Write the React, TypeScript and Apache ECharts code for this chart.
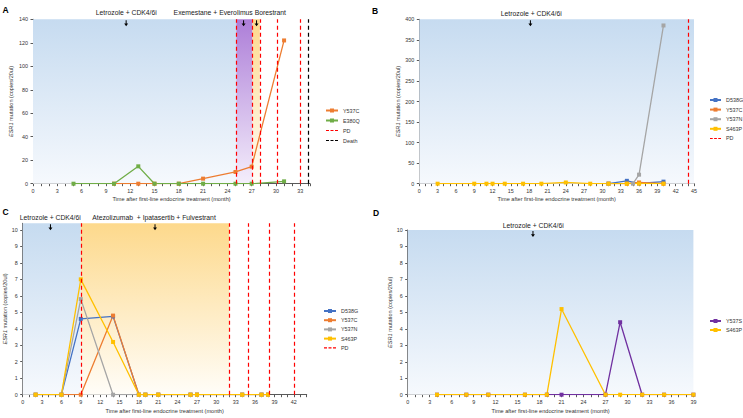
import React, { useEffect, useRef } from "react";
import * as echarts from "echarts";

const FONT = "'Liberation Sans', Arial, Helvetica, sans-serif";

// ---------- Panel A ----------
const monthsA_Y537C = [10, 13, 15, 18, 21, 25, 27, 31];
const valuesA_Y537C = [0, 0, 0, 0, 4.3, 10, 14.5, 122];
const monthsA_E380Q = [5, 10, 13, 15, 18, 21, 25, 27, 31];
const valuesA_E380Q = [0, 0, 14.8, 0, 0, 0, 0, 0, 2];
const pdA = [25.1, 27.1, 28, 30.1, 33];
const deathA = [34];
const phasesA = [[0, 25.1], [25.1, 27.1], [27.1, 28]];
const arrowsA = [11.5, 26, 27.6];

// ---------- Panel B ----------
const monthsB_D538G = [31, 34, 36, 40];
const valuesB_D538G = [0, 7, 0.5, 5];
const monthsB_Y537C = [31, 34, 36, 40];
const valuesB_Y537C = [0, 0, 3, 0];
const monthsB_Y537N = [31, 35, 36, 40];
const valuesB_Y537N = [0, 0, 22, 385];
const monthsB_S463P = [3, 9, 11, 12, 14, 17, 20, 24, 28, 31, 34, 36, 40];
const valuesB_S463P = [0, 0, 0, 0, 0, 0, 0, 3, 0, 0, 0, 0, 0];
const pdB = [44];
const phasesB = [[0, 45]];
const arrowsB = [18.2];

// ---------- Panel C ----------
const monthsC = [2, 6, 9, 14, 18, 19, 21, 26, 27, 34, 37, 38];
const valuesC_D538G = [0, 0, 4.6, 4.75, 0, 0, 0, 0, 0, 0, 0, 0];
const valuesC_Y537C = [0, 0, 0, 4.8, 0, 0, 0, 0, 0, 0, 0, 0];
const valuesC_Y537N = [0, 0, 5.8, 0, 0, 0, 0, 0, 0, 0, 0, 0];
const valuesC_S463P = [0, 0, 7.0, 3.2, 0, 0, 0, 0, 0, 0, 0, 0];
const pdC = [9, 32, 35, 38.2, 42];
const phasesC = [[0, 9], [9, 32]];
const arrowsC = [4.3, 20.5];

// ---------- Panel D ----------
const monthsD = [4, 8, 11, 16, 19, 21, 27, 29, 32, 35, 39];
const valuesD_Y537S = [0, 0, 0, 0, 0, 0, 0, 4.4, 0, 0, 0];
const valuesD_S463P = [0, 0, 0, 0, 0, 5.2, 0, 0, 0, 0, 0];
const phasesD = [[0, 39]];
const arrowsD = [17.1];

const COLORS: Record<string, string> = {
  Y537C: "#ED7D31",
  E380Q: "#70AD47",
  D538G: "#4472C4",
  Y537N: "#A5A5A5",
  S463P: "#FFC000",
  Y537S: "#7030A0",
};

const grad = (top: string, bottom: string) =>
  new echarts.graphic.LinearGradient(0, 0, 0, 1, [
    { offset: 0, color: top },
    { offset: 1, color: bottom },
  ]);

const blueFill = () => grad("#c6dbf0", "#f6f9fd");
const purpleFill = () => grad("#ad7ed8", "#f4eefb");
const amberFill = () => grad("#fdd98c", "#fffdf8");

const AXIS_COLOR = "#595959";
const TEXT_COLOR = "#333333";

const ARROW = "path://M3,0 L5,0 L5,6 L8,6 L4,11 L0,6 L3,6 Z";
// legend glyph for dashed reference lines: three short dashes in a 12x5 box
const DASH_ICON =
  "path://M0,0h0.01v0.01h-0.01z M0,2h3v1.1h-3z M4.5,2h3v1.1h-3z M9,2h3v1.1h-3z M11.99,4.99h0.01v0.01h-0.01z";

function mutation(name: string, months: number[], values: number[], g: number) {
  const c = COLORS[name];
  return {
    type: "line",
    name,
    xAxisIndex: g,
    yAxisIndex: g,
    data: months.map((m, i) => [m, values[i]]),
    symbol: "rect",
    symbolSize: 4,
    lineStyle: { width: 1.3, color: c },
    itemStyle: { color: c },
    z: 3,
  };
}

function dashed(name: string, color: string, at: number[], g: number) {
  return {
    type: "line",
    name,
    xAxisIndex: g,
    yAxisIndex: g,
    data: [],
    symbol: "none",
    lineStyle: { width: 1.2, color, type: [4, 3] },
    itemStyle: { color },
    z: 4,
    markLine: {
      silent: true,
      symbol: ["none", "none"],
      label: { show: false },
      lineStyle: { width: 1.2, color, type: [4, 3] },
      data: at.map((x) => ({ xAxis: x })),
    },
  };
}

function backdrop(phases: number[][], fills: (() => any)[], arrows: number[], yTop: number, g: number) {
  return {
    type: "line",
    name: "__phase" + g,
    xAxisIndex: g,
    yAxisIndex: g,
    data: [],
    z: 1,
    markArea: {
      silent: true,
      data: phases.map((p, i) => [
        { xAxis: p[0], itemStyle: { color: fills[i](), opacity: 1 } },
        { xAxis: p[1] },
      ]),
    },
    markPoint: {
      silent: true,
      symbol: ARROW,
      symbolSize: [4, 6],
      symbolOffset: [0, 4],
      itemStyle: { color: "#000" },
      label: { show: false },
      data: arrows.map((x) => ({ coord: [x, yTop] })),
    },
  };
}

const yTitle = "{i|ESR1} mutation (copies/20ul)";

function xAxis(g: number, max: number, gap: number) {
  return {
    type: "value",
    gridIndex: g,
    min: 0,
    max,
    interval: 3,
    name: "Time after first-line endocrine treatment (month)",
    nameLocation: "middle",
    nameGap: gap,
    nameTextStyle: { fontSize: 5.6, color: TEXT_COLOR, fontFamily: FONT },
    axisLine: { show: true, lineStyle: { color: AXIS_COLOR, width: 1 } },
    axisTick: { show: true, length: 2.5, lineStyle: { color: AXIS_COLOR } },
    minorTick: { show: true, splitNumber: 3, length: 2.5, lineStyle: { color: AXIS_COLOR } },
    splitLine: { show: false },
    axisLabel: {
      fontSize: 5.4,
      color: TEXT_COLOR,
      fontFamily: FONT,
      margin: 5,
      showMaxLabel: max % 3 === 0,
    },
  };
}

function yAxis(g: number, max: number, interval: number, gap: number, hideMax = false) {
  return {
    type: "value",
    gridIndex: g,
    min: 0,
    max,
    interval,
    name: yTitle,
    nameLocation: "middle",
    nameGap: gap,
    nameRotate: 90,
    nameTextStyle: {
      fontSize: 5.6,
      color: TEXT_COLOR,
      fontFamily: FONT,
      rich: { i: { fontStyle: "italic", fontSize: 5.6, color: TEXT_COLOR, fontFamily: FONT } },
    },
    axisLine: { show: true, lineStyle: { color: AXIS_COLOR, width: 1 } },
    axisTick: { show: true, length: 2.5, lineStyle: { color: AXIS_COLOR } },
    splitLine: { show: false },
    axisLabel: {
      fontSize: 5.4,
      color: TEXT_COLOR,
      fontFamily: FONT,
      margin: 5,
      showMaxLabel: !hideMax,
    },
  };
}

function legendItems(names: string[]) {
  return names.map((n) =>
    n === "PD" || n === "Death" ? { name: n, icon: DASH_ICON } : { name: n }
  );
}

function legend(names: string[], left: number, top: number, gap: number, w: number) {
  return {
    data: legendItems(names),
    orient: "vertical",
    left,
    top,
    itemWidth: w,
    itemHeight: 5,
    itemGap: gap,
    selectedMode: false,
    textStyle: { fontSize: 5.4, color: TEXT_COLOR, fontFamily: FONT },
  };
}

function label(text: string, x: number, y: number, size = 6.8, bold = false) {
  return {
    type: "text",
    x,
    y,
    silent: true,
    style: {
      text,
      fill: bold ? "#000" : "#1a1a1a",
      fontSize: size,
      fontWeight: bold ? "bold" : "normal",
      fontFamily: FONT,
      align: bold ? "left" : "center",
      verticalAlign: "middle",
    },
  };
}

export default function App() {
  const ref = useRef<HTMLDivElement>(null);

  useEffect(() => {
    if (!ref.current) return;
    const chart = echarts.init(ref.current, undefined, { renderer: "svg" });

    const option: any = {
      animation: false,
      backgroundColor: "#ffffff",
      grid: [
        { left: 33, top: 19.3, width: 277, height: 164.4, outerBoundsMode: "none" },
        { left: 419.3, top: 19.3, width: 274.7, height: 164.4, outerBoundsMode: "none" },
        { left: 22.7, top: 223.3, width: 284, height: 171.4, outerBoundsMode: "none" },
        { left: 407.7, top: 230, width: 285.7, height: 164.7, outerBoundsMode: "none" },
      ],
      xAxis: [xAxis(0, 34.2, 12), xAxis(1, 45, 12), xAxis(2, 44, 13), xAxis(3, 39, 13)],
      yAxis: [
        yAxis(0, 140, 20, 19),
        yAxis(1, 400, 50, 16),
        yAxis(2, 10.4, 1, 9, true),
        yAxis(3, 10, 1, 9),
      ],
      legend: [
        legend(["Y537C", "E380Q", "PD", "Death"], 320, 103, 5, 12),
        legend(["D538G", "Y537C", "Y537N", "S463P", "PD"], 704, 92.5, 4.6, 11),
        legend(["D538G", "Y537C", "Y537N", "S463P", "PD"], 318, 303.5, 4.2, 12),
        legend(["Y537S", "S463P"], 704, 313.5, 4, 11),
      ],
      graphic: [
        label("A", 2.5, 10, 8.5, true),
        label("Letrozole + CDK4/6i", 126.3, 12),
        label("Exemestane + Everolimus Borestrant", 229.8, 12),
        label("B", 372, 10.5, 8.5, true),
        label("Letrozole + CDK4/6i", 531.3, 13.3),
        label("C", 2.5, 211.7, 8.5, true),
        label("Letrozole + CDK4/6i", 50.3, 217.3),
        label("Atezolizumab  + Ipatasertib + Fulvestrant", 154, 217.3),
        label("D", 373, 213.3, 8.5, true),
        label("Letrozole + CDK4/6i", 533.3, 225),
      ],
      series: [
        // A
        backdrop(phasesA, [blueFill, purpleFill, amberFill], arrowsA, 140, 0),
        mutation("Y537C", monthsA_Y537C, valuesA_Y537C, 0),
        mutation("E380Q", monthsA_E380Q, valuesA_E380Q, 0),
        dashed("PD", "#ff0000", pdA, 0),
        dashed("Death", "#000000", deathA, 0),
        // B
        backdrop(phasesB, [blueFill], arrowsB, 400, 1),
        mutation("D538G", monthsB_D538G, valuesB_D538G, 1),
        mutation("Y537C", monthsB_Y537C, valuesB_Y537C, 1),
        mutation("Y537N", monthsB_Y537N, valuesB_Y537N, 1),
        mutation("S463P", monthsB_S463P, valuesB_S463P, 1),
        dashed("PD", "#ff0000", pdB, 1),
        // C
        backdrop(phasesC, [blueFill, amberFill], arrowsC, 10.4, 2),
        mutation("D538G", monthsC, valuesC_D538G, 2),
        mutation("Y537C", monthsC, valuesC_Y537C, 2),
        mutation("Y537N", monthsC, valuesC_Y537N, 2),
        mutation("S463P", monthsC, valuesC_S463P, 2),
        dashed("PD", "#ff0000", pdC, 2),
        // D
        backdrop(phasesD, [blueFill], arrowsD, 10, 3),
        mutation("Y537S", monthsD, valuesD_Y537S, 3),
        mutation("S463P", monthsD, valuesD_S463P, 3),
      ],
    };

    chart.setOption(option);
    return () => chart.dispose();
  }, []);

  return (
    <div
      ref={ref}
      style={{ position: "absolute", left: 0, top: 0, width: 743, height: 418, background: "#fff" }}
    />
  );
}
